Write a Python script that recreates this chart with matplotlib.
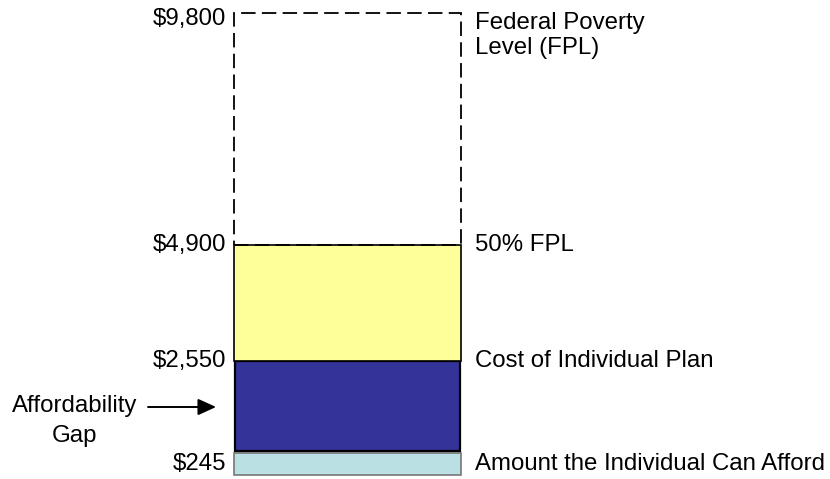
import numpy as np
import matplotlib
matplotlib.use("Agg")
import matplotlib.pyplot as plt
from matplotlib.scale import FuncScale

plt.rcParams['font.family'] = ['Liberation Sans', 'DejaVu Sans']

# ---- data ----
seg_bottoms = [0, 245, 2550, 4900]
seg_tops = [245, 2550, 4900, 9800]
seg_colors = ['#BAE0E3', '#333399', '#FFFF99', 'none']
value_labels = ['$245', '$2,550', '$4,900', '$9,800']
right_labels = ['Amount the Individual Can Afford', 'Cost of Individual Plan',
                '50% FPL', 'Federal Poverty\nLevel (FPL)']
gap_label = ['Affordability', 'Gap']

FS = 17.3

fig = plt.figure(figsize=(8.30, 4.79), dpi=100)
ax = fig.add_axes([233 / 830, 4 / 479, 229 / 830, 462 / 479])

# schematic (piecewise linear) value axis
anc_v = np.array([0, 245, 2550, 4900, 9800], dtype=float)
anc_f = np.array([0, 22, 114, 230, 462], dtype=float) / 462.0
ax.set_yscale(FuncScale(ax, (lambda v: np.interp(v, anc_v, anc_f),
                             lambda f: np.interp(f, anc_f, anc_v))))
ax.set_ylim(0, 9800)
ax.set_xlim(0, 1)
ax.axis('off')

# light blue
ax.bar(0.5, seg_tops[0] - seg_bottoms[0], bottom=seg_bottoms[0], width=0.995,
       color=seg_colors[0], edgecolor='#777777', linewidth=1.2, clip_on=False)
# dark blue
ax.bar(0.5, seg_tops[1] - seg_bottoms[1] - 40, bottom=seg_bottoms[1] + 40, width=0.985,
       color=seg_colors[1], edgecolor='black', linewidth=1.6, clip_on=False)
# yellow
ax.bar(0.5, seg_tops[2] - seg_bottoms[2], bottom=seg_bottoms[2], width=0.995,
       color=seg_colors[2], edgecolor='black', linewidth=1.2, clip_on=False)
# dashed FPL
ax.bar(0.5, seg_tops[3] - seg_bottoms[3], bottom=seg_bottoms[3], width=0.995,
       facecolor='none', edgecolor='black', linewidth=1.3,
       linestyle=(0, (8, 3.5)), clip_on=False)

# left value labels
left_y = [(seg_bottoms[0] + seg_tops[0]) / 2, seg_tops[1], seg_tops[2], seg_tops[3]]
left_off = [0, 0, 0, -6]
for y, lab, off in zip(left_y, value_labels, left_off):
    ax.annotate(lab, xy=(0, y), xycoords=('axes fraction', 'data'),
                xytext=(-5, off * 0.72), textcoords='offset points',
                ha='right', va='center', fontsize=FS, annotation_clip=False)

# right labels
right_y = left_y
for i, (y, lab) in enumerate(zip(right_y, right_labels)):
    if i == 3:
        ax.annotate(lab, xy=(1, y), xycoords=('axes fraction', 'data'),
                    xytext=(9.4, 1), textcoords='offset points',
                    ha='left', va='top', fontsize=FS, linespacing=1.19,
                    annotation_clip=False)
    else:
        ax.annotate(lab, xy=(1, y), xycoords=('axes fraction', 'data'),
                    xytext=(9.4, 0), textcoords='offset points',
                    ha='left', va='center', fontsize=FS, annotation_clip=False)

# affordability gap arrow
gap_mid = (seg_tops[0] + seg_tops[1]) / 2
ax.annotate('', xy=(-0.074, gap_mid), xycoords=('axes fraction', 'data'),
            xytext=(-0.371, gap_mid), textcoords=('axes fraction', 'data'),
            arrowprops=dict(arrowstyle='-|>,head_length=1.1,head_width=0.5',
                            color='black', lw=1.4, shrinkA=0, shrinkB=0),
            annotation_clip=False)
ax.annotate(gap_label[0], xy=(-0.69, gap_mid), xycoords=('axes fraction', 'data'),
            xytext=(0, 1), textcoords='offset points',
            ha='center', va='center', fontsize=FS, annotation_clip=False)
ax.annotate(gap_label[1], xy=(-0.69, gap_mid), xycoords=('axes fraction', 'data'),
            xytext=(0, -21), textcoords='offset points',
            ha='center', va='center', fontsize=FS, annotation_clip=False)

fig.savefig('out.png', dpi=100)
